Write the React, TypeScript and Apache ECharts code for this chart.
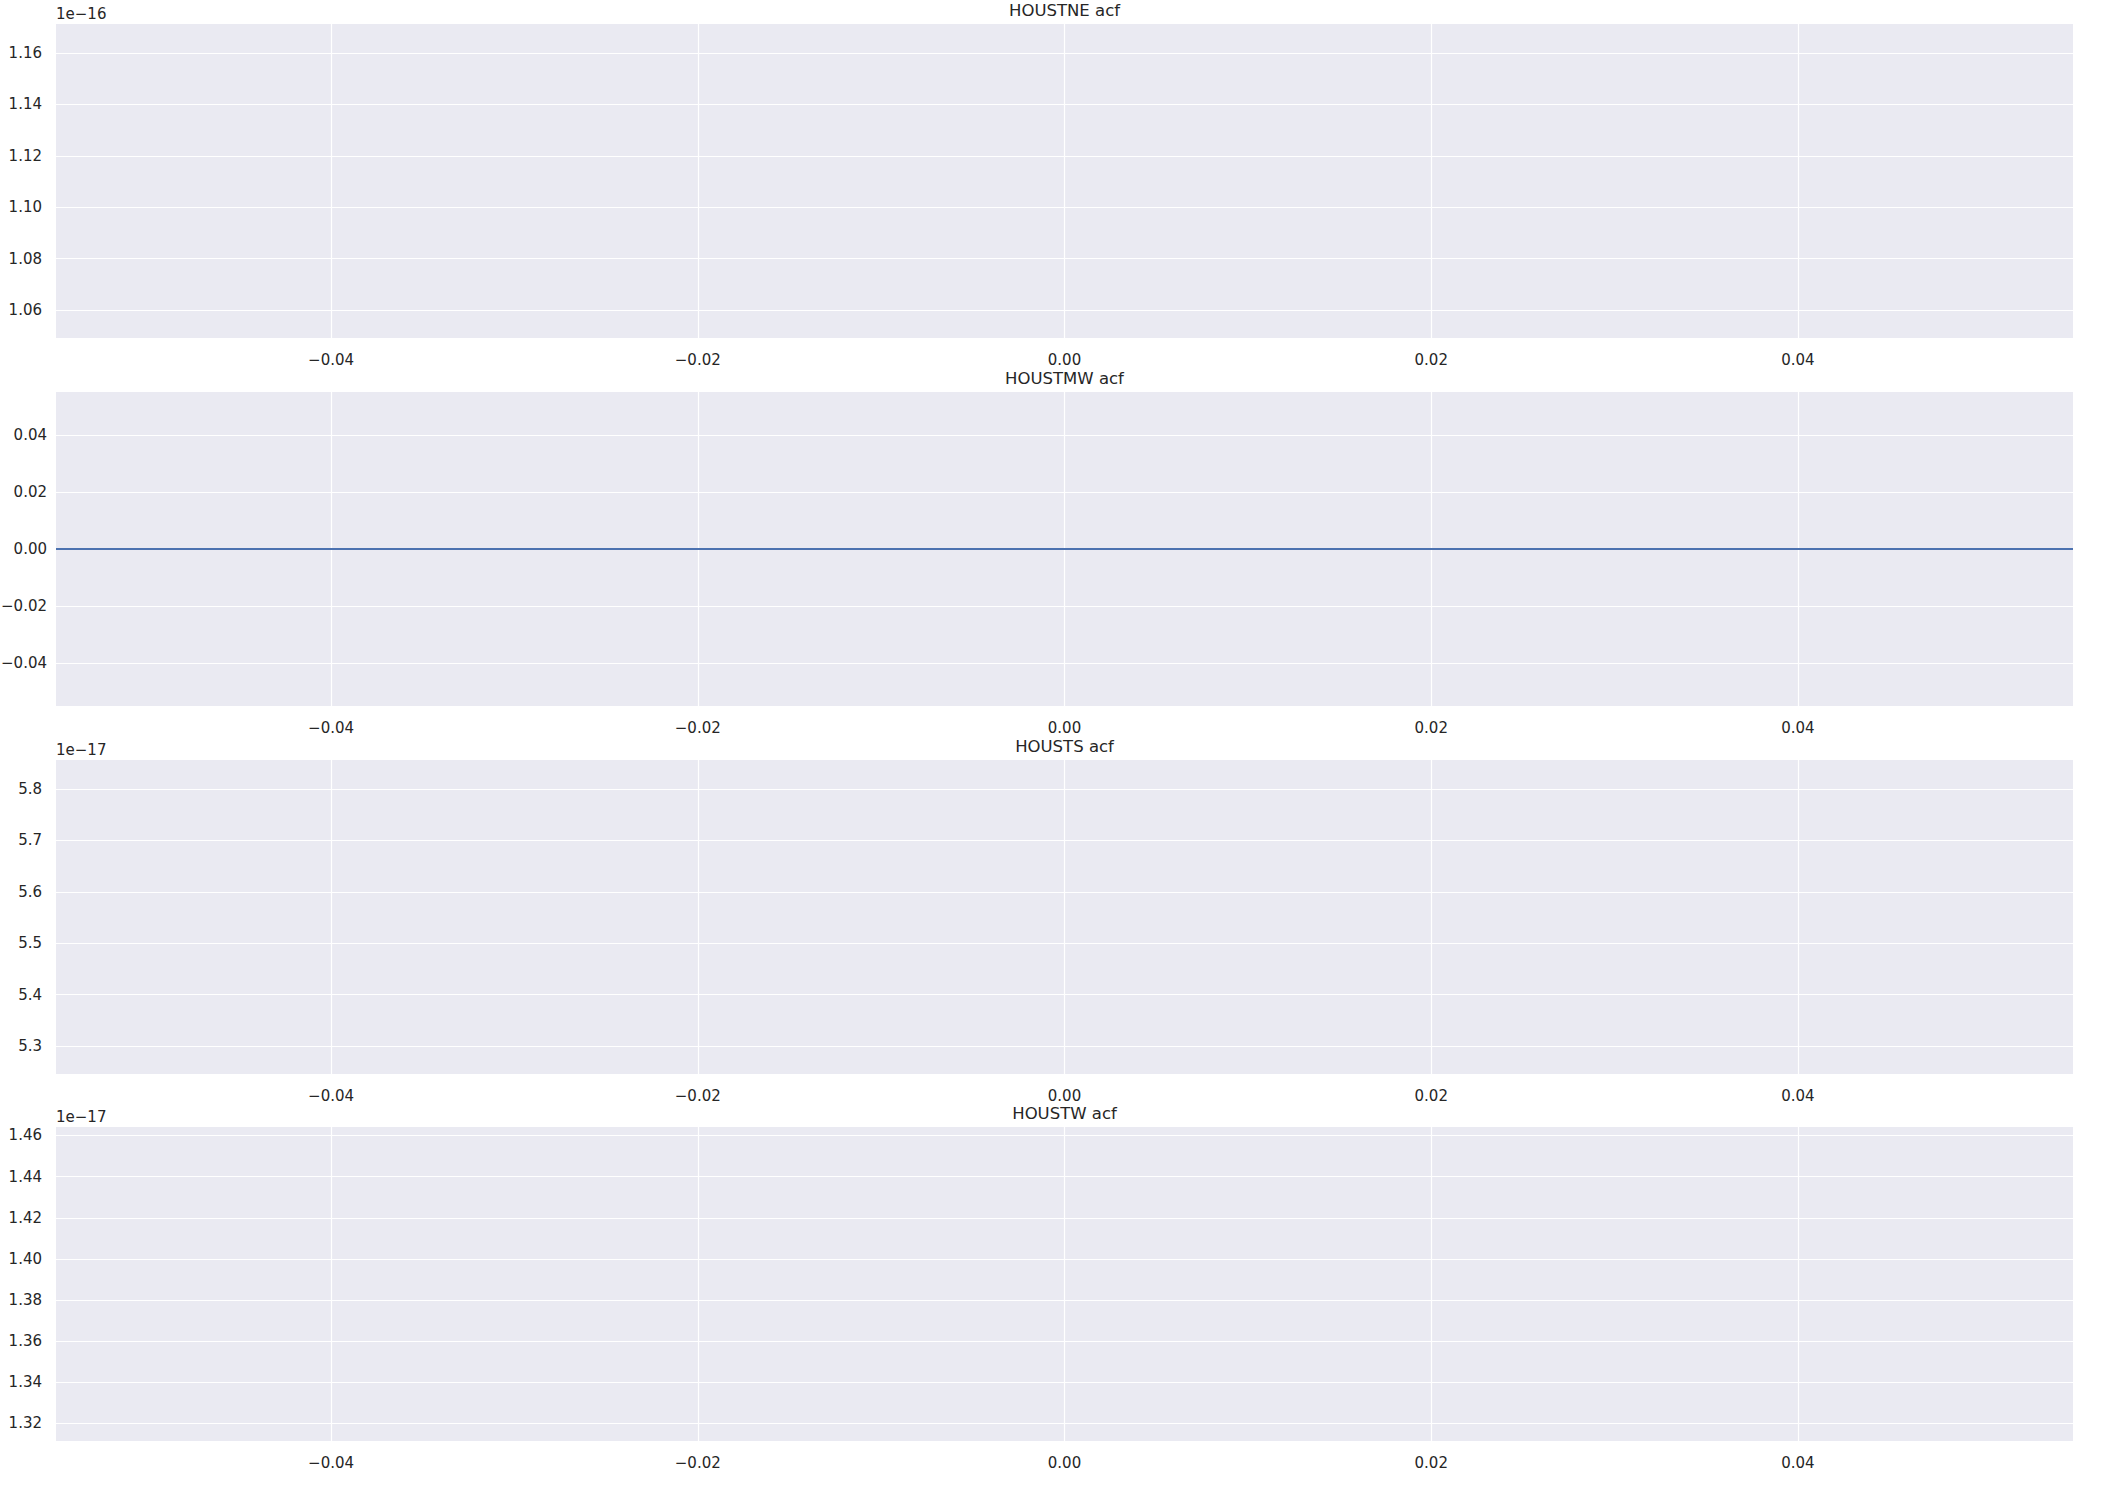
import React, { useEffect, useRef } from "react";
import * as echarts from "echarts";

// ---- data ----
const panelTitles = ["HOUSTNE acf", "HOUSTMW acf", "HOUSTS acf", "HOUSTW acf"];
const lags = [0];
const acfValues = [1.1102e-16, 0, 5.551e-17, 1.3878e-17];
const offsetExponents = [-16, 0, -17, -17];
const xTicks = [-0.04, -0.02, 0, 0.02, 0.04];
const yTicksNE = [1.06, 1.08, 1.1, 1.12, 1.14, 1.16];
const yTicksMW = [-0.04, -0.02, 0, 0.02, 0.04];
const yTicksS = [5.3, 5.4, 5.5, 5.6, 5.7, 5.8];
const yTicksW = [1.32, 1.34, 1.36, 1.38, 1.4, 1.42, 1.44, 1.46];
const yTickSets = [yTicksNE, yTicksMW, yTicksS, yTicksW];
const yTickDecimals = [2, 2, 1, 2];
const xLimit = 0.055;
const zeroLine = 0;

// ---- layout ----
const GRID_LEFT = 56;
const GRID_WIDTH = 2017;
const GRID_HEIGHT = 314;
const GRID_TOPS = [24, 392, 760, 1127];
const Y_LABEL_MARGINS = [14, 9, 14, 14];
const FONT = "DejaVu Sans";
const TEXT_COLOR = "#262626";
const BG = "#EAEAF2";
const LINE_BLUE = "#4C72B0";

const fmt = (v: number, d: number) => {
  const s = (Math.abs(v) < 1e-12 ? 0 : v).toFixed(d);
  return s.replace("-", "\u2212");
};

export default function App() {
  const ref = useRef<HTMLDivElement>(null);
  useEffect(() => {
    if (!ref.current) return;
    const chart = echarts.init(ref.current, null, { renderer: "svg" });

    const grids: any[] = [];
    const xAxes: any[] = [];
    const yAxes: any[] = [];
    const series: any[] = [];
    const graphics: any[] = [];

    acfValues.forEach((v, i) => {
      const exp = offsetExponents[i];
      const scaled = exp !== 0 ? v / Math.pow(10, exp) : v;
      const yMin = scaled !== 0 ? scaled * (1 - xLimit) : -xLimit;
      const yMax = scaled !== 0 ? scaled * (1 + xLimit) : xLimit;
      const top = GRID_TOPS[i];
      grids.push({
        left: GRID_LEFT,
        top,
        width: GRID_WIDTH,
        height: GRID_HEIGHT,
        show: true,
        backgroundColor: BG,
        borderWidth: 0,
        containLabel: false,
        outerBoundsMode: "none",
      });
      xAxes.push({
        type: "value",
        gridIndex: i,
        min: -xLimit,
        max: xLimit,
        axisLine: { show: false },
        axisTick: { show: false, customValues: xTicks },
        axisLabel: {
          customValues: xTicks,
          formatter: (val: number) => fmt(val, 2),
          color: TEXT_COLOR,
          fontFamily: FONT,
          fontSize: 15,
          margin: 14,
        },
        splitLine: { show: true, lineStyle: { color: "#ffffff", width: 1.2 } },
      });
      const yt = yTickSets[i];
      const dec = yTickDecimals[i];
      yAxes.push({
        type: "value",
        gridIndex: i,
        min: yMin,
        max: yMax,
        axisLine: { show: false },
        axisTick: { show: false, customValues: yt },
        axisLabel: {
          customValues: yt,
          formatter: (val: number) => fmt(val, dec),
          color: TEXT_COLOR,
          fontFamily: FONT,
          fontSize: 15,
          margin: Y_LABEL_MARGINS[i],
        },
        splitLine: { show: true, lineStyle: { color: "#ffffff", width: 1.2 } },
      });
      const s: any = {
        type: "line",
        xAxisIndex: i,
        yAxisIndex: i,
        data: lags.map((l) => [l, scaled]),
        showSymbol: false,
        lineStyle: { color: LINE_BLUE, width: 2 },
        silent: true,
      };
      if (zeroLine >= yMin && zeroLine <= yMax) {
        s.markLine = {
          silent: true,
          symbol: "none",
          label: { show: false },
          lineStyle: { color: LINE_BLUE, width: 2, type: "solid" },
          data: [{ yAxis: zeroLine }],
        };
      }
      series.push(s);

      graphics.push({
        type: "text",
        x: GRID_LEFT + GRID_WIDTH / 2,
        y: top - 14,
        style: {
          text: panelTitles[i],
          fill: TEXT_COLOR,
          font: `16.5px "${FONT}"`,
          textAlign: "center",
          textVerticalAlign: "middle",
        },
      });
      if (exp !== 0) {
        graphics.push({
          type: "text",
          x: GRID_LEFT,
          y: top - 10.5,
          style: {
            text: `1e\u2212${Math.abs(exp)}`,
            fill: TEXT_COLOR,
            font: `15px "${FONT}"`,
            textAlign: "left",
            textVerticalAlign: "middle",
          },
        });
      }
    });

    chart.setOption({
      animation: false,
      backgroundColor: "#ffffff",
      textStyle: { fontFamily: FONT },
      grid: grids,
      xAxis: xAxes,
      yAxis: yAxes,
      series,
      graphic: graphics,
    });
    return () => chart.dispose();
  }, []);
  return (
    <div
      ref={ref}
      style={{ position: "absolute", left: 0, top: 0, width: 2104, height: 1488 }}
    />
  );
}
